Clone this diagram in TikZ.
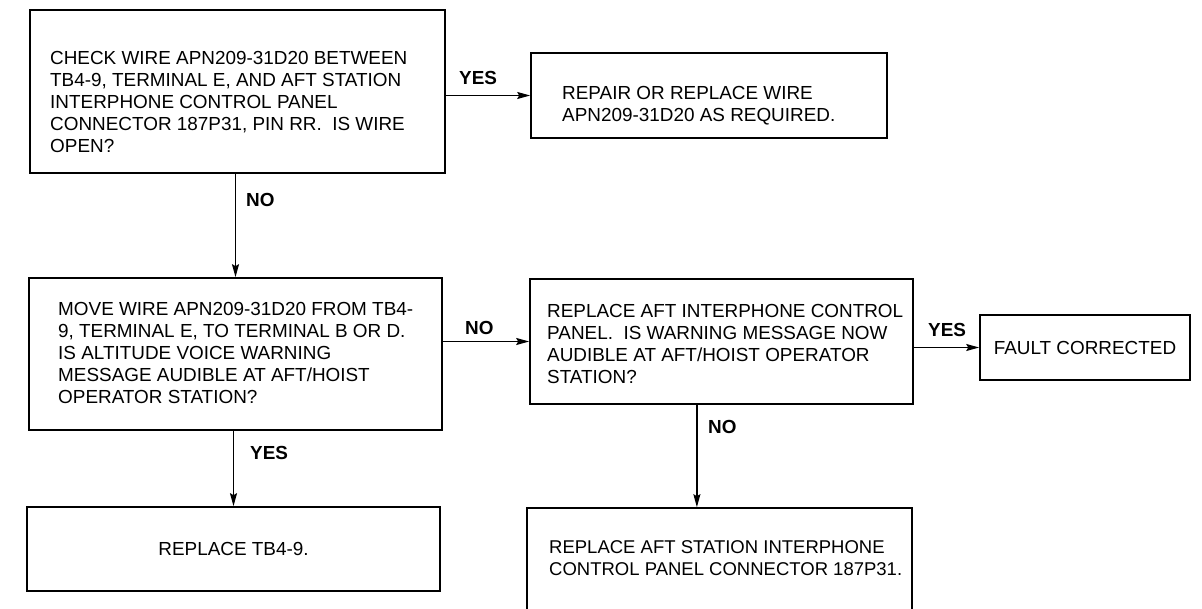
\documentclass[tikz,border=0pt]{standalone}
\usepackage{fontspec}
\setmainfont{Liberation Sans}
\usetikzlibrary{arrows.meta,calc}
\begin{document}
\begin{tikzpicture}[x=1pt,y=-1pt,
  box/.style={draw, line width=1.6pt, rectangle, inner sep=0pt},
  txt/.style={anchor=north west, inner sep=0pt, align=left, font=\fontsize{18.9}{22}\selectfont},
  ctxt/.style={font=\fontsize{18.9}{22}\selectfont},
  lbl/.style={anchor=west, inner sep=0pt, font=\bfseries\fontsize{18.9}{22}\selectfont},
  arr/.style={line width=1.5pt, -{Stealth[length=13pt,width=7pt,inset=2pt]}}]
\path[use as bounding box] (0,0) rectangle (1202,609);
\clip (0,0) rectangle (1202,609);
% boxes
\node[box, minimum width=415pt, minimum height=163pt] (b1) at (237.5,91.5) {};
\node[box, minimum width=356pt, minimum height=85pt] (b2) at (709,95.5) {};
\node[box, minimum width=413pt, minimum height=152pt] (b3) at (235.5,354) {};
\node[box, minimum width=383pt, minimum height=125pt] (b4) at (721.5,341.5) {};
\node[box, ctxt, minimum width=210pt, minimum height=65pt] (b5) at (1085,347.5) {FAULT CORRECTED};
\node[box, minimum width=385pt, minimum height=112pt] (b6) at (719.5,564) {};
\node[box, ctxt, minimum width=413pt, minimum height=84pt] (b7) at (233.5,549) {REPLACE TB4-9.};
% texts
\node[txt] (t1) at (50,51) {CHECK WIRE APN209-31D20 BETWEEN\\TB4-9, TERMINAL E, AND AFT STATION\\INTERPHONE CONTROL PANEL\\CONNECTOR 187P31, PIN RR.\ \ IS WIRE\\OPEN?};
\node[txt] (t2) at (562,86) {REPAIR OR REPLACE WIRE\\APN209-31D20 AS REQUIRED.};
\node[txt] (t3) at (58,302) {MOVE WIRE APN209-31D20 FROM TB4-\\9, TERMINAL E, TO TERMINAL B OR D.\\IS ALTITUDE VOICE WARNING\\MESSAGE AUDIBLE AT AFT/HOIST\\OPERATOR STATION?};
\node[txt] (t4) at (547,304) {REPLACE AFT INTERPHONE CONTROL\\PANEL.\ \ IS WARNING MESSAGE NOW\\AUDIBLE AT AFT/HOIST OPERATOR\\STATION?};
\node[txt, font=\fontsize{18.5}{22}\selectfont] (t6) at (549,540) {REPLACE AFT STATION INTERPHONE\\CONTROL PANEL CONNECTOR 187P31.};
% connectors
\draw[arr] (b1.east |- b2.west) -- (b2.west);
\draw[arr] (b3.north |- b1.south) -- (b3.north);
\draw[arr] (b3.east |- b4.west) -- (b4.west);
\draw[arr] (b4.east |- b5.west) -- (b5.west);
\coordinate (c46) at ($(b4.south west)!0.436!(b4.south east)$);
\draw[arr] (c46) -- (c46 |- b6.north);
\draw[arr] (b7.north |- b3.south) -- (b7.north);
% labels
\node[lbl] (l1) at (459,78) {YES};
\node[lbl] (l2) at (246,200) {NO};
\node[lbl] (l3) at (465,328) {NO};
\node[lbl] (l4) at (928,330) {YES};
\node[lbl] (l5) at (708,427) {NO};
\node[lbl] (l6) at (250,453) {YES};
\end{tikzpicture}
\end{document}
